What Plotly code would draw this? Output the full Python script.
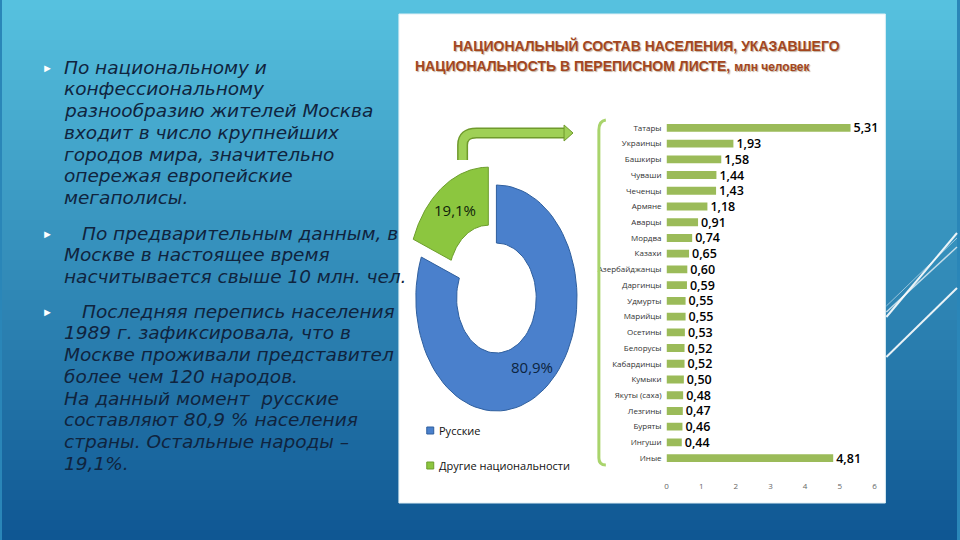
import plotly.graph_objects as go
import numpy as np

# ---------------- data ----------------
categories = ["Татары", "Украинцы", "Башкиры", "Чуваши", "Чеченцы", "Армяне", "Аварцы",
              "Мордва", "Казахи", "Азербайджанцы", "Даргинцы", "Удмурты", "Марийцы",
              "Осетины", "Белорусы", "Кабардинцы", "Кумыки", "Якуты (саха)", "Лезгины",
              "Буряты", "Ингуши", "Иные"]
values = [5.31, 1.93, 1.58, 1.44, 1.43, 1.18, 0.91, 0.74, 0.65, 0.60, 0.59, 0.55, 0.55,
          0.53, 0.52, 0.52, 0.50, 0.48, 0.47, 0.46, 0.44, 4.81]
x_ticks = [0, 1, 2, 3, 4, 5, 6]

donut_labels = ["Русские", "Другие национальности"]
donut_shares = [80.9, 19.1]
donut_text = ["80,9%", "19,1%"]

title_lines = ["НАЦИОНАЛЬНЫЙ СОСТАВ НАСЕЛЕНИЯ, УКАЗАВШЕГО",
               "НАЦИОНАЛЬНОСТЬ В ПЕРЕПИСНОМ ЛИСТЕ, <span style='font-size:12px'>млн человек</span>"]

paragraphs = [
    ["По национальному и", "конфессиональному", "разнообразию жителей Москва",
     "входит в число крупнейших", "городов мира, значительно", "опережая европейские",
     "мегаполисы."],
    ["По предварительным данным, в", "Москве в настоящее время",
     "насчитывается свыше 10 млн. чел."],
    ["Последняя перепись населения", "1989 г. зафиксировала, что в",
     "Москве проживали представител", "более чем 120 народов.", "На данный момент  русские",
     "составляют 80,9 % населения", "страны. Остальные народы –", "19,1%."],
]

W, H = 960, 540
def px(x): return x / W
def py(y): return 1 - y / H

fig = go.Figure()

# ---------------- background gradient ----------------
shapes = []
top = np.array([0x57, 0xc3, 0xe0])
bot = np.array([0x0f, 0x56, 0x93])
n = 54
for i in range(n):
    t = (i + 0.5) / n
    c = top * (1 - t) + bot * t
    shapes.append(dict(type="rect", xref="paper", yref="paper", x0=0, x1=1,
                       y0=py((i + 1) * H / n) - 0.002, y1=py(i * H / n),
                       fillcolor="rgb(%d,%d,%d)" % tuple(c.astype(int)), line_width=0, layer="below"))
# white panel
shapes.append(dict(type="rect", xref="paper", yref="paper", x0=px(399), x1=px(888),
                   y0=py(503), y1=py(14), fillcolor="white", line=dict(color="#dfeff5", width=1),
                   layer="below"))
# decorative diagonal lines
for (x0, y0, x1, y1, w, op) in [(889, 317, 960, 233, 2, 0.9), (889, 312, 960, 247, 1.5, 0.7),
                                 (889, 306, 960, 238, 1, 0.5), (889, 357, 960, 288, 2, 0.9)]:
    shapes.append(dict(type="line", xref="paper", yref="paper", x0=px(x0), y0=py(y0),
                       x1=px(x1), y1=py(y1), line=dict(color="white", width=w), opacity=op,
                       layer="below"))

# ---------------- bar chart ----------------
fig.add_trace(go.Bar(
    y=categories, x=values, orientation="h", marker=dict(color="#9bbb59", line_width=0),
    width=0.5, texttemplate="%{x:.2f}", textposition="outside", cliponaxis=False,
    constraintext="none",
    textfont=dict(family="Open Sans", size=12.5, color="black", weight=600),
    xaxis="x", yaxis="y", showlegend=False, hoverinfo="skip"))

# ---------------- donut (drawn in pixel-space axes x2/y2) ----------------
cx, cy = 497, 298
rxo, ryo, rxi, ryi = 81, 113, 40, 55
colors = ["#4a80cc", "#8cc63f"]
edge = ["#2f5f9e", "#6d9e2c"]
cum = np.cumsum([0] + donut_shares)
total = sum(donut_shares)
explode = [0, 24]
for k in range(len(donut_shares)):
    a0 = cum[k] / total * 2 * np.pi
    a1 = cum[k + 1] / total * 2 * np.pi
    mid = (a0 + a1) / 2
    ox = explode[k] * np.sin(mid) * 0.6
    oy = -explode[k] * np.cos(mid) * 0.9
    th = np.linspace(a0, a1, 80)
    xo = cx + ox + rxo * np.sin(th)
    yo = cy + oy - ryo * np.cos(th)
    xi = cx + ox + rxi * np.sin(th[::-1])
    yi = cy + oy - ryi * np.cos(th[::-1])
    fig.add_trace(go.Scatter(
        x=np.concatenate([xo, xi, xo[:1]]), y=np.concatenate([yo, yi, yo[:1]]),
        fill="toself", fillcolor=colors[k], mode="lines", line=dict(color=edge[k], width=1),
        xaxis="x2", yaxis="y2", showlegend=False, hoverinfo="skip", name=donut_labels[k]))

annotations = []
# donut value labels
annotations.append(dict(xref="paper", yref="paper", x=px(533), y=py(367), text=donut_text[0],
                        xanchor="center", yanchor="middle", showarrow=False,
                        font=dict(family="Open Sans", size=15, color="#0c2440")))
annotations.append(dict(xref="paper", yref="paper", x=px(455), y=py(210), text=donut_text[1],
                        xanchor="center", yanchor="middle", showarrow=False,
                        font=dict(family="Open Sans", size=15, color="#10240a")))

# legend of donut
for k, yy in enumerate([430, 465]):
    shapes.append(dict(type="rect", xref="paper", yref="paper", x0=px(427), x1=px(434),
                       y0=py(yy + 4), y1=py(yy - 3), fillcolor=colors[k],
                       line=dict(color=edge[k], width=1)))
    annotations.append(dict(xref="paper", yref="paper", x=px(437), y=py(yy), xanchor="left",
                            yanchor="middle", text=donut_labels[k], showarrow=False,
                            font=dict(family="Open Sans", size=11, color="#111")))

# arrow from donut to bar chart
arrow_path = "M %f %f L %f %f Q %f %f %f %f L %f %f" % (
    px(463), py(160), px(463), py(145), px(463), py(133), px(477), py(133), px(566), py(133))
shapes.append(dict(type="path", xref="paper", yref="paper", path=arrow_path,
                   line=dict(color="#6f9a2c", width=11)))
shapes.append(dict(type="path", xref="paper", yref="paper", path=arrow_path,
                   line=dict(color="#9fd056", width=8)))
shapes.append(dict(type="path", xref="paper", yref="paper",
                   path="M %f %f L %f %f L %f %f Z" % (px(565), py(125), px(574), py(133),
                                                        px(565), py(141)),
                   fillcolor="#9fd056", line=dict(color="#6f9a2c", width=1)))
# bracket
shapes.append(dict(type="path", xref="paper", yref="paper",
                   path="M %f %f Q %f %f %f %f L %f %f Q %f %f %f %f" % (
                       px(607), py(120), px(600), py(121), px(600), py(130),
                       px(600), py(458), px(600), py(465), px(607), py(465)),
                   line=dict(color="#a9d46c", width=3)))

# title
for t, yy, xx in zip(title_lines, [45, 66], [648, 614]):
    annotations.append(dict(xref="paper", yref="paper", x=px(xx), y=py(yy), text="<b>%s</b>" % t,
                            xanchor="center", yanchor="middle", showarrow=False,
                            font=dict(family="Liberation Sans Narrow, Arial Narrow, Liberation Sans",
                                      size=14, color="#a3461e", shadow="1px 1px 1px #c0b0a0")))

# left text
para_y = [67, 233, 311]
step = 21.75
for p, lines in enumerate(paragraphs):
    annotations.append(dict(xref="paper", yref="paper", x=px(46), y=py(para_y[p]),
                            xanchor="center", yanchor="middle",
                            text="►", showarrow=False,
                            font=dict(size=11, color="white")))
    for j, line in enumerate(lines):
        x0 = 60
        if j == 0 and p > 0:
            x0 = 78
        annotations.append(dict(xref="paper", yref="paper", x=px(x0), y=py(para_y[p] + j * step),
                                xanchor="left", yanchor="middle", text="<i>%s</i>" % line,
                                showarrow=False,
                                font=dict(family="DejaVu Sans", size=18.5, color="#10243e")))

fig.update_layout(
    width=W, height=H, margin=dict(l=0, r=0, t=0, b=0),
    paper_bgcolor="#2a86b8", plot_bgcolor="rgba(0,0,0,0)",
    separators=", ", showlegend=False,
    shapes=shapes, annotations=annotations,
    xaxis=dict(domain=[px(668), px(877)], range=[0, 6], tickvals=x_ticks, showgrid=False,
               zeroline=False, showline=False, ticks="", ticklabelstandoff=14,
               tickfont=dict(family="Open Sans", size=8, color="#666"), anchor="y"),
    yaxis=dict(domain=[py(466), py(120)], autorange="reversed", showgrid=False, zeroline=False,
               showline=False, ticks="", ticklabelstandoff=4,
               tickfont=dict(family="Open Sans", size=8, color="#333"), anchor="x"),
    xaxis2=dict(domain=[0, 1], range=[0, W], visible=False, anchor="y2"),
    yaxis2=dict(domain=[0, 1], range=[H, 0], visible=False, anchor="x2"),
)

fig.write_html("out.html", config={"displayModeBar": False},
               post_script="document.body.style.margin='0';document.body.style.padding='0';")
